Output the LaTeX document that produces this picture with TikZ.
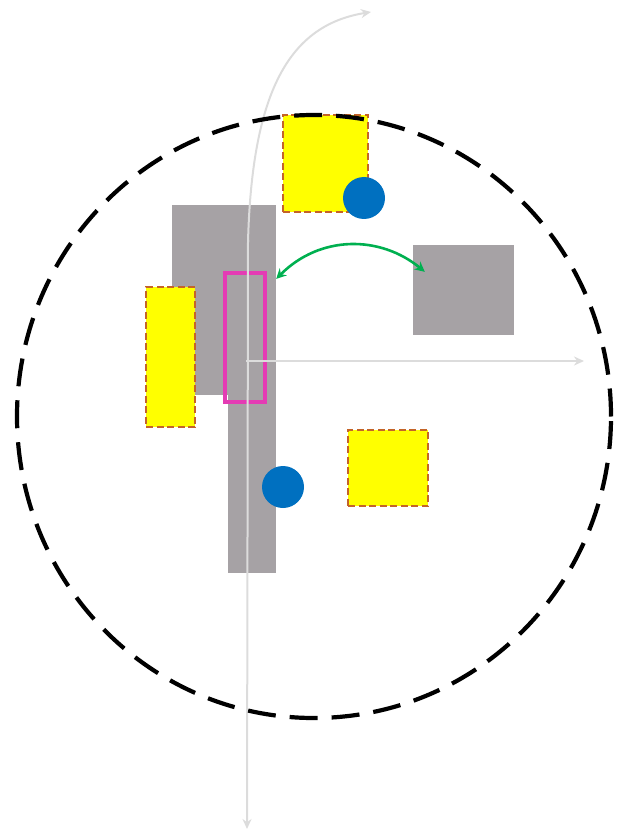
\documentclass[tikz,border=0pt]{standalone}
\usetikzlibrary{arrows.meta,shapes.geometric}
\definecolor{boxgray}{RGB}{166,162,165}
\definecolor{boxyellow}{RGB}{255,255,0}
\definecolor{yedge}{RGB}{196,100,40}
\definecolor{dotblue}{RGB}{0,112,192}
\definecolor{linkgreen}{RGB}{0,176,80}
\definecolor{markpink}{RGB}{228,60,180}
\definecolor{axisgray}{RGB}{220,220,220}
\tikzset{
  graybox/.style={fill=boxgray, draw=none, inner sep=0pt},
  yellowbox/.style={fill=boxyellow, draw=yedge, line width=2pt, dash pattern=on 7pt off 3.5pt, inner sep=0pt},
  pinkbox/.style={draw=markpink, line width=3.4pt, inner sep=0pt},
  bluedot/.style={circle, fill=dotblue, draw=none, minimum size=42pt, inner sep=0pt},
  axisline/.style={draw=axisgray, line width=2pt, -{Stealth[length=10pt,width=9pt]}},
  greenlink/.style={draw=linkgreen, line width=2.6pt, {Stealth[length=10pt,width=10pt]}-{Stealth[length=10pt,width=10pt]}},
  ring/.style={ellipse, draw=black, line width=4.2pt, dash pattern=on 28pt off 14pt, inner sep=0pt}
}
\begin{document}
\begin{tikzpicture}[x=1pt,y=-1pt]
\useasboundingbox (0,0) rectangle (616,834);
% gray boxes
\node[graybox, minimum width=104pt, minimum height=190pt] (grayA) at (224,300) {};
\node[graybox, minimum width=48pt, minimum height=183pt] (grayB) at (252,481.5) {};
\node[graybox, minimum width=101pt, minimum height=90pt] (grayC) at (463.5,290) {};
% yellow boxes
\node[yellowbox, minimum width=85pt, minimum height=97pt] (yellowT) at (325.5,163.5) {};
\node[yellowbox, minimum width=49pt, minimum height=140pt] (yellowL) at (170.5,357) {};
\node[yellowbox, minimum width=80pt, minimum height=76pt] (yellowR) at (388,468) {};
% pink marker
\node[pinkbox, minimum width=40pt, minimum height=129pt] (pink) at (245,337.5) {};
% blue dots
\node[bluedot] (dotT) at (364,198) {};
\node[bluedot] (dotB) at (283,487) {};
% axes
\coordinate (axbottom) at (247,829);
\coordinate (axtop) at (371,12);
\coordinate (axorigin) at (246,361);
\coordinate (axright) at (584,361);
\draw[axisline] (248,240) -- (axbottom);
\draw[axisline] (248,242) .. controls (252,90) and (290,25) .. (axtop);
\draw[axisline] (axorigin) -- (axright);
% green link
\draw[greenlink] (grayA.22.9) .. controls (320,235) and (380,235) .. ([xshift=12pt,yshift=-27pt]grayC.north west);
% dashed ring
\node[ring, minimum width=594pt, minimum height=603pt] (circ) at (314,416.5) {};
\end{tikzpicture}
\end{document}
